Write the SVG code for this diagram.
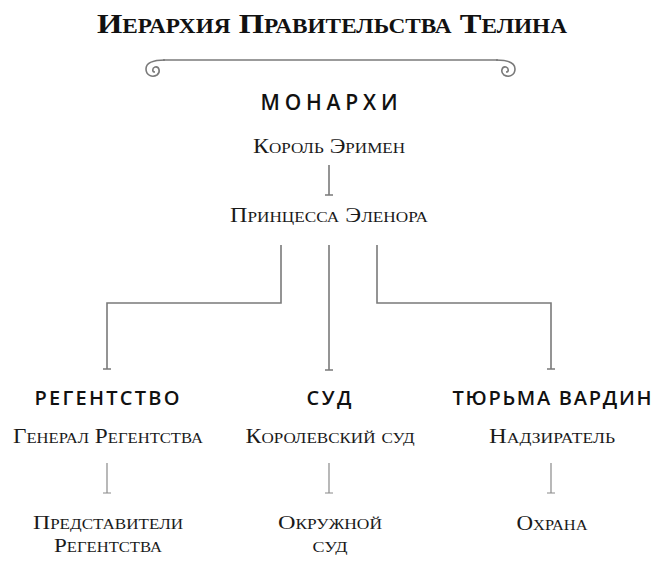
<svg xmlns="http://www.w3.org/2000/svg" width="660" height="564" viewBox="0 0 660 564">
<style>
.title{font-family:"Liberation Serif",serif;font-weight:bold;font-variant:small-caps;font-size:28px;fill:#111;text-anchor:middle}
.head{font-family:"Open Sans","DejaVu Sans",sans-serif;font-weight:600;font-size:20px;fill:#111;text-anchor:middle}
.lbl{font-family:"Liberation Serif",serif;font-variant:small-caps;font-size:21px;fill:#1a1a1a;text-anchor:middle}
.sm{font-size:19.5px}
.ln{fill:none;stroke:#7a7a7a;stroke-width:1.6}
.ln2{fill:none;stroke:#8a8a8a;stroke-width:1.2}
</style>
<rect width="660" height="564" fill="#fff"/>
<g id="title">
<text class="title" x="332" y="33" textLength="470" lengthAdjust="spacingAndGlyphs">Иерархия Правительства Телина</text>
<path class="ln" d="M163,60 L498,60"/>
<path class="ln" d="M165,60 C151,60 146,64 146,69 C146,75 152,78 157,75 C161,72 159,66 155,67 C152,68 152,72 155,72"/>
<path class="ln" d="M496,60 C510,60 515,64 515,69 C515,75 509,78 504,75 C500,72 502,66 506,67 C509,68 509,72 506,72"/>
</g>
<g id="connectors">
<path class="ln" d="M329,165 L329,195 M325,195 L333,195"/>
<path class="ln" d="M281,245 L281,303 L107,303 L107,369 M103,369 L111,369"/>
<path class="ln" d="M329,245 L329,370 M325,370 L333,370"/>
<path class="ln" d="M377,245 L377,303 L551,303 L551,369 M547,369 L555,369"/>
<path class="ln2" d="M107,463 L107,493 M103,493 L111,493"/>
<path class="ln2" d="M329,463 L329,493 M325,493 L333,493"/>
<path class="ln2" d="M551,463 L551,493 M547,493 L555,493"/>
</g>
<g id="monarchs">
<text class="head" x="329" y="110" style="font-size:21px" textLength="137">МОНАРХИ</text>
</g>
<g id="king">
<text class="lbl" x="329" y="153" textLength="152" lengthAdjust="spacingAndGlyphs">Король Эримен</text>
</g>
<g id="princess">
<text class="lbl" x="329" y="222" textLength="198" lengthAdjust="spacingAndGlyphs">Принцесса Эленора</text>
</g>
<g id="regency">
<text class="head" x="107" y="405" textLength="145">РЕГЕНТСТВО</text>
</g>
<g id="court">
<text class="head" x="329" y="405" textLength="45">СУД</text>
</g>
<g id="prison">
<text class="head" x="552" y="405" textLength="199">ТЮРЬМА ВАРДИН</text>
</g>
<g id="general">
<text class="lbl" x="108" y="443" textLength="190" lengthAdjust="spacingAndGlyphs">Генерал Регентства</text>
</g>
<g id="royalcourt">
<text class="lbl" x="330" y="443" textLength="169" lengthAdjust="spacingAndGlyphs">Королевский суд</text>
</g>
<g id="warden">
<text class="lbl" x="552" y="443" textLength="126" lengthAdjust="spacingAndGlyphs">Надзиратель</text>
</g>
<g id="reps">
<text class="lbl sm" x="108" y="529" textLength="150" lengthAdjust="spacingAndGlyphs">Представители</text>
<text class="lbl sm" x="108" y="552" textLength="108" lengthAdjust="spacingAndGlyphs">Регентства</text>
</g>
<g id="district">
<text class="lbl sm" x="330" y="529" textLength="104" lengthAdjust="spacingAndGlyphs">Окружной</text>
<text class="lbl sm" x="330" y="552" textLength="35" lengthAdjust="spacingAndGlyphs">суд</text>
</g>
<g id="guard">
<text class="lbl" x="552" y="530" textLength="71" lengthAdjust="spacingAndGlyphs">Охрана</text>
</g>
</svg>
